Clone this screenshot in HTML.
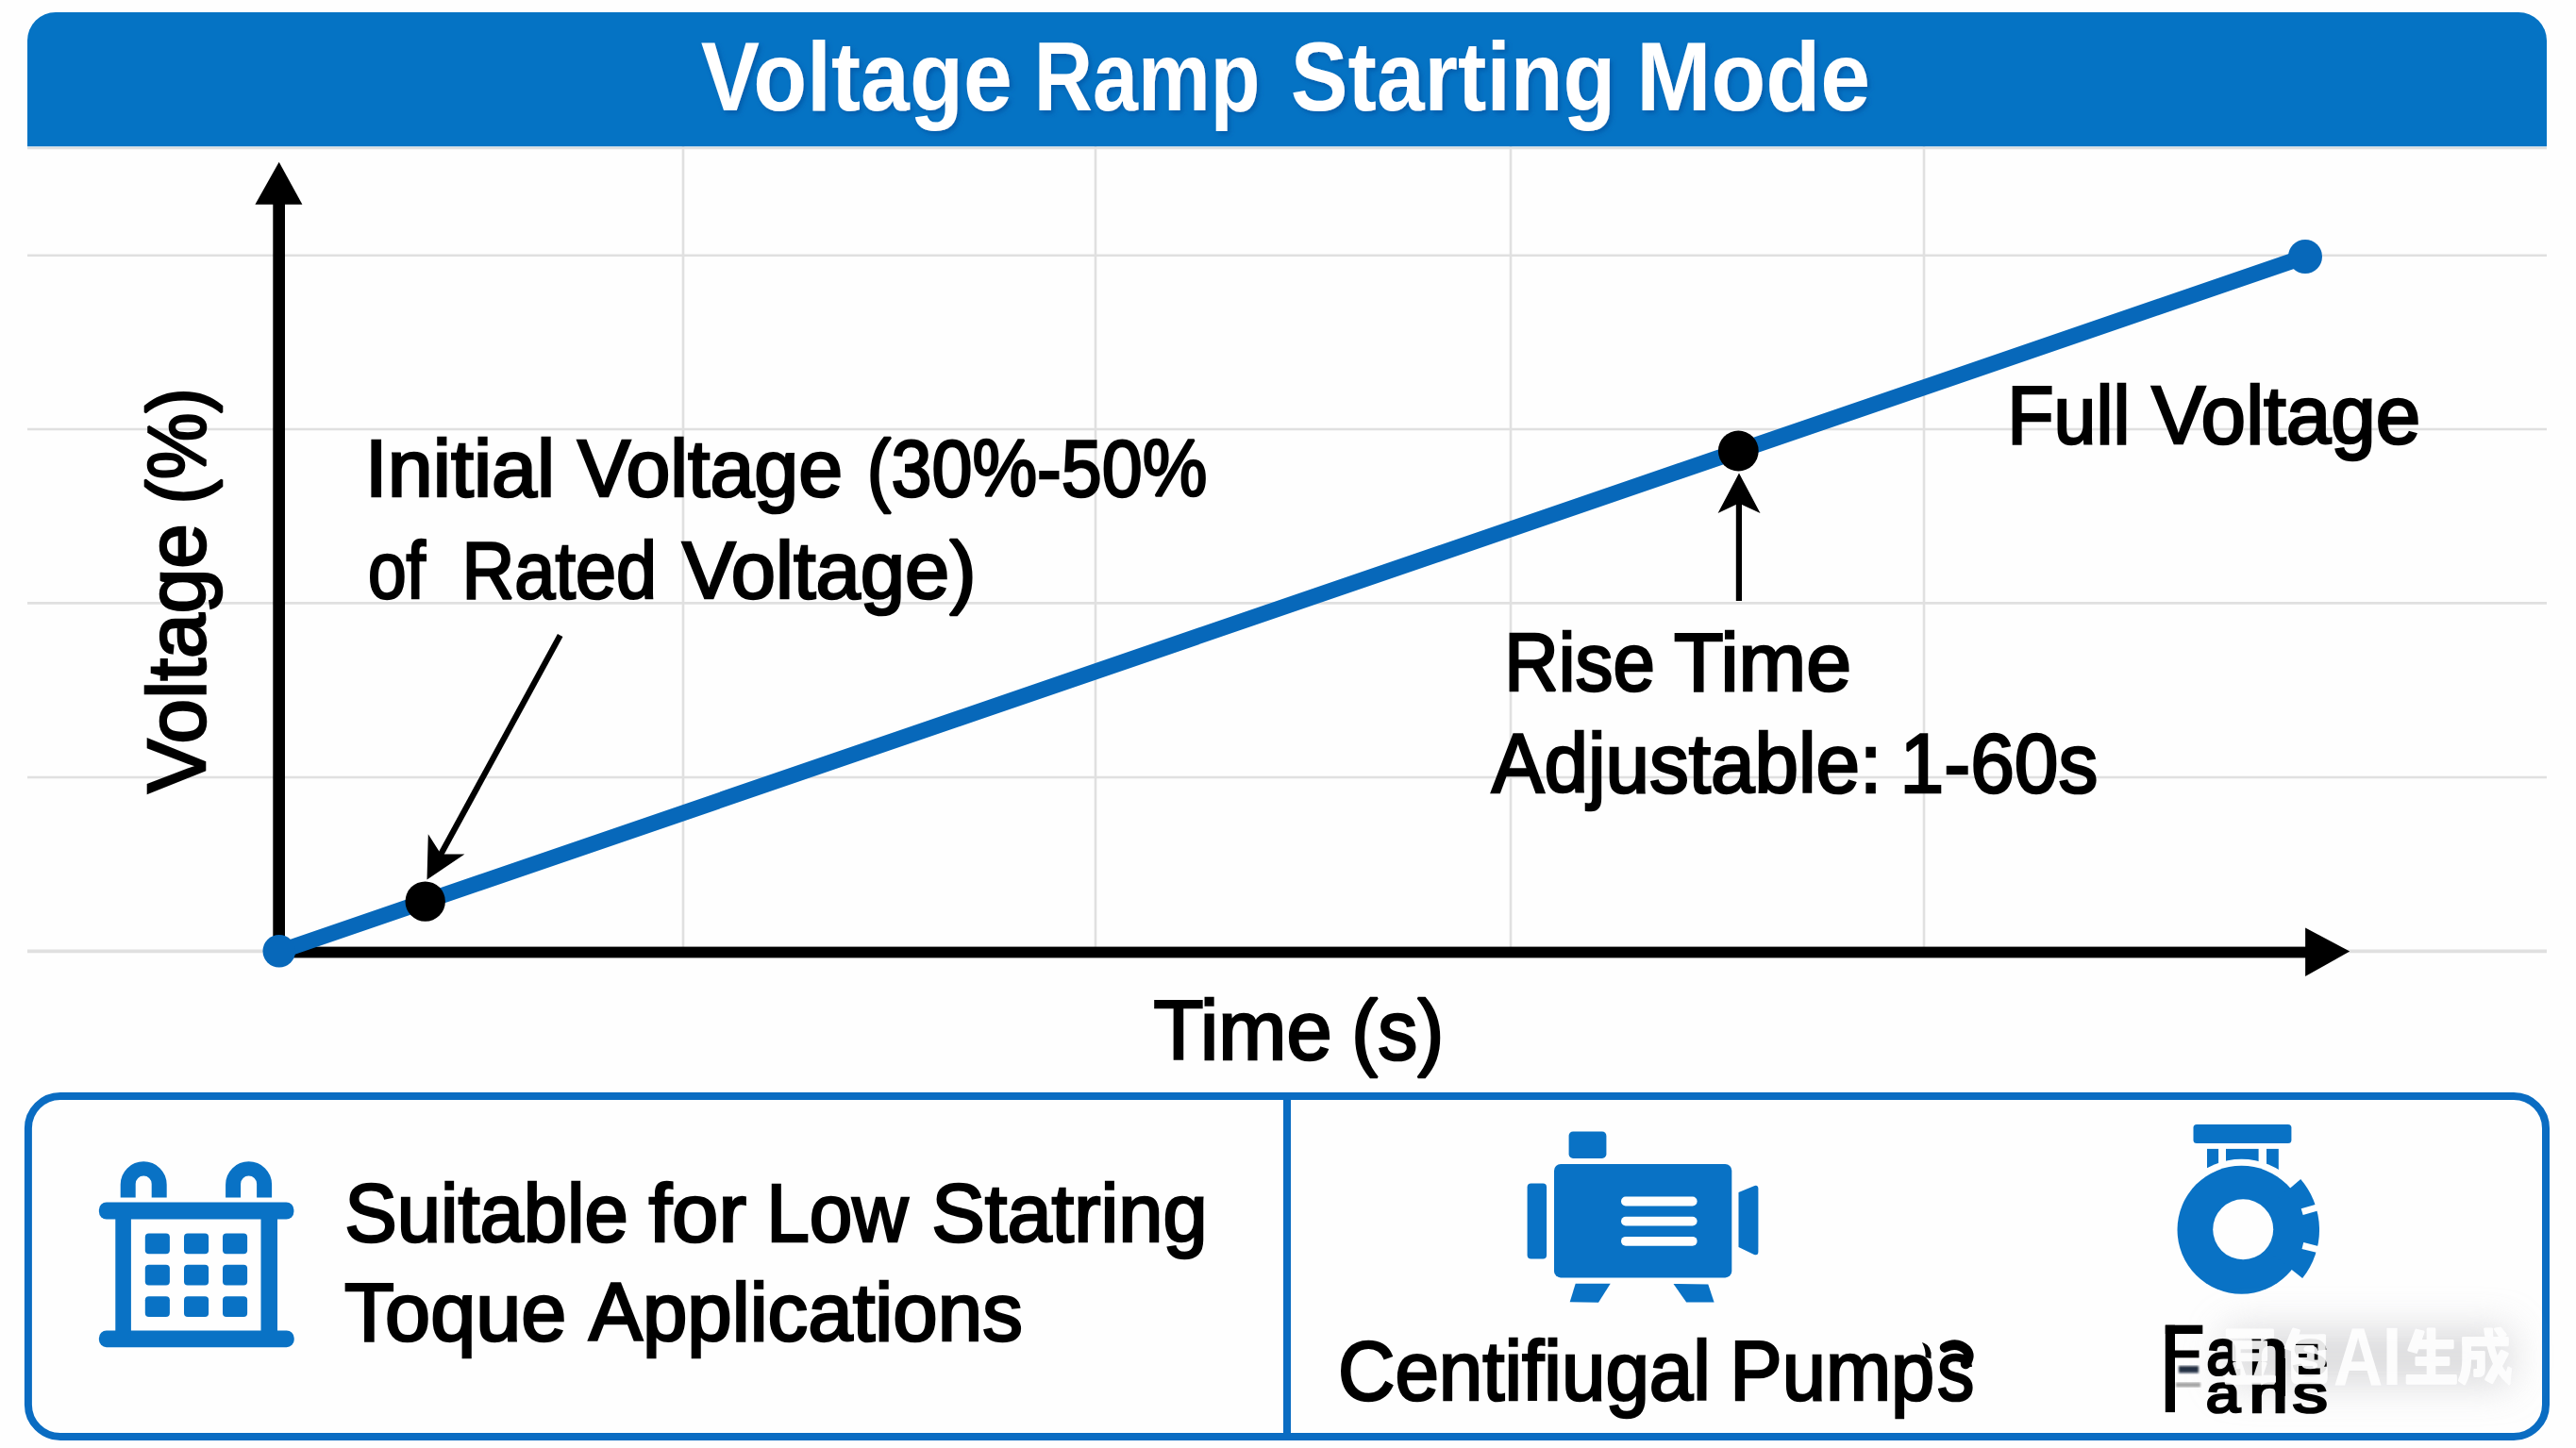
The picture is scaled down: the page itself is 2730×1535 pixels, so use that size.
<!DOCTYPE html>
<html lang="en"><head><meta charset="utf-8"><title>Voltage Ramp Starting Mode</title>
<style>html,body{margin:0;padding:0;background:#fefefe;}body{width:2730px;height:1535px;}svg{display:block;}text{font-family:"Liberation Sans",sans-serif;white-space:pre;}</style>
</head><body>
<svg width="2730" height="1535" viewBox="0 0 2730 1535">
<defs><filter id="soft" x="-40%" y="-180%" width="180%" height="460%"><feGaussianBlur stdDeviation="20"/></filter><filter id="b1"><feGaussianBlur stdDeviation="1.2"/></filter><filter id="ts" x="-5%" y="-20%" width="110%" height="150%"><feDropShadow dx="2.5" dy="3" stdDeviation="2.5" flood-color="#034a94" flood-opacity="0.55"/></filter></defs>
<rect x="0" y="0" width="2730" height="1535" fill="#fefefe"/>
<g stroke="#e0e0e0" stroke-width="2.6" fill="none">
<line x1="29" y1="157" x2="2699" y2="157"/>
<line x1="29" y1="270.7" x2="2699" y2="270.7"/>
<line x1="29" y1="455" x2="2699" y2="455"/>
<line x1="29" y1="639.4" x2="2699" y2="639.4"/>
<line x1="29" y1="824" x2="2699" y2="824"/>
<line x1="724" y1="155" x2="724" y2="1008"/>
<line x1="1161" y1="155" x2="1161" y2="1008"/>
<line x1="1601" y1="155" x2="1601" y2="1008"/>
<line x1="2039" y1="155" x2="2039" y2="1008"/>
</g>
<line x1="29" y1="1008.4" x2="2699" y2="1008.4" stroke="#e0e0e0" stroke-width="3.6"/>
<path d="M29 155.3 V43 A30 30 0 0 1 59 13 H2669 A30 30 0 0 1 2699 43 V155.3 Z" fill="#0573c4"/>
<text x="742.85" y="117.30" font-size="104" textLength="329.98" lengthAdjust="spacingAndGlyphs" fill="#fff" font-weight="700" filter="url(#ts)">Voltage</text>
<text x="1095.82" y="117.30" font-size="104" textLength="239.54" lengthAdjust="spacingAndGlyphs" fill="#fff" font-weight="700" filter="url(#ts)">Ramp</text>
<text x="1367.76" y="117.30" font-size="104" textLength="344.34" lengthAdjust="spacingAndGlyphs" fill="#fff" font-weight="700" filter="url(#ts)">Starting</text>
<text x="1734.13" y="117.30" font-size="104" textLength="248.08" lengthAdjust="spacingAndGlyphs" fill="#fff" font-weight="700" filter="url(#ts)">Mode</text>
<rect x="289.3" y="210" width="12.7" height="805.5" fill="#000"/>
<polygon points="295.7,171.8 320.4,216.7 270.4,216.7" fill="#000"/>
<rect x="289.3" y="1003.6" width="2160" height="11.8" fill="#000"/>
<polygon points="2490.2,1008.6 2443.1,983.6 2443.1,1035" fill="#000"/>
<line x1="296" y1="1008.6" x2="2443" y2="272" stroke="#0768ba" stroke-width="16.8" stroke-linecap="round"/>
<circle cx="295.8" cy="1008.2" r="17.3" fill="#0768ba"/>
<circle cx="2443" cy="272" r="18" fill="#0768ba"/>
<circle cx="450.7" cy="955.6" r="21.2" fill="#000"/>
<circle cx="1842.3" cy="478" r="21.4" fill="#000"/>
<line x1="593.7" y1="673.5" x2="464.5" y2="910.6" stroke="#000" stroke-width="6.3"/>
<polygon points="452.5,932.6 453.8,884.3 467.3,905.4 492.4,905.4" fill="#000"/>
<rect x="1839.8" y="525" width="6.2" height="112" fill="#000"/>
<polygon points="1843,501.6 1865.5,544.1 1842.8,533.6 1820.6,544.1" fill="#000"/>
<text x="386.86" y="526.00" font-size="85.8" textLength="201.36" lengthAdjust="spacingAndGlyphs" fill="#000" stroke="#000" stroke-width="2.6" stroke-linejoin="miter" stroke-miterlimit="2">Initial</text>
<text x="611.88" y="526.00" font-size="85.8" textLength="281.17" lengthAdjust="spacingAndGlyphs" fill="#000" stroke="#000" stroke-width="2.6" stroke-linejoin="miter" stroke-miterlimit="2">Voltage</text>
<text x="918.81" y="526.00" font-size="85.8" textLength="360.59" lengthAdjust="spacingAndGlyphs" fill="#000" stroke="#000" stroke-width="2.6" stroke-linejoin="miter" stroke-miterlimit="2">(30%-50%</text>
<text x="389.93" y="634.40" font-size="85.8" textLength="61.00" lengthAdjust="spacingAndGlyphs" fill="#000" stroke="#000" stroke-width="2.6" stroke-linejoin="miter" stroke-miterlimit="2">of</text>
<text x="489.45" y="634.40" font-size="85.8" textLength="206.64" lengthAdjust="spacingAndGlyphs" fill="#000" stroke="#000" stroke-width="2.6" stroke-linejoin="miter" stroke-miterlimit="2">Rated</text>
<text x="722.88" y="634.40" font-size="85.8" textLength="311.73" lengthAdjust="spacingAndGlyphs" fill="#000" stroke="#000" stroke-width="2.6" stroke-linejoin="miter" stroke-miterlimit="2">Voltage)</text>
<text x="2127.28" y="470.20" font-size="86.8" textLength="130.16" lengthAdjust="spacingAndGlyphs" fill="#000" stroke="#000" stroke-width="2.6" stroke-linejoin="miter" stroke-miterlimit="2">Full</text>
<text x="2280.37" y="470.20" font-size="86.8" textLength="285.02" lengthAdjust="spacingAndGlyphs" fill="#000" stroke="#000" stroke-width="2.6" stroke-linejoin="miter" stroke-miterlimit="2">Voltage</text>
<text x="1594.15" y="731.80" font-size="86.3" textLength="159.70" lengthAdjust="spacingAndGlyphs" fill="#000" stroke="#000" stroke-width="2.6" stroke-linejoin="miter" stroke-miterlimit="2">Rise</text>
<text x="1774.11" y="731.80" font-size="86.3" textLength="187.88" lengthAdjust="spacingAndGlyphs" fill="#000" stroke="#000" stroke-width="2.6" stroke-linejoin="miter" stroke-miterlimit="2">Time</text>
<text x="1580.73" y="839.90" font-size="88.2" textLength="413.56" lengthAdjust="spacingAndGlyphs" fill="#000" stroke="#000" stroke-width="2.6" stroke-linejoin="miter" stroke-miterlimit="2">Adjustable:</text>
<text x="2013.62" y="839.90" font-size="88.2" textLength="209.84" lengthAdjust="spacingAndGlyphs" fill="#000" stroke="#000" stroke-width="2.6" stroke-linejoin="miter" stroke-miterlimit="2">1-60s</text>
<text x="1222.39" y="1123.20" font-size="88.7" textLength="189.33" lengthAdjust="spacingAndGlyphs" fill="#000" stroke="#000" stroke-width="2.6" stroke-linejoin="miter" stroke-miterlimit="2">Time</text>
<text x="1432.29" y="1123.20" font-size="88.7" textLength="97.92" lengthAdjust="spacingAndGlyphs" fill="#000" stroke="#000" stroke-width="2.6" stroke-linejoin="miter" stroke-miterlimit="2">(s)</text>
<text transform="translate(217.30,841.70) rotate(-90)" x="0.87" y="0" font-size="87.2" textLength="285.84" lengthAdjust="spacingAndGlyphs" fill="#000" stroke="#000" stroke-width="2.6" stroke-linejoin="miter" stroke-miterlimit="2">Voltage</text>
<text transform="translate(217.30,531.00) rotate(-90)" x="-3.62" y="0" font-size="87.2" textLength="123.35" lengthAdjust="spacingAndGlyphs" fill="#000" stroke="#000" stroke-width="2.6" stroke-linejoin="miter" stroke-miterlimit="2">(%)</text>
<rect x="29.9" y="1162" width="2668.1" height="361" rx="34" ry="34" fill="#fefefe" stroke="#0a6cc2" stroke-width="8"/>
<rect x="1360" y="1162" width="8" height="361" fill="#0a6cc2"/>
<g fill="#0972c5">
<rect x="104.9" y="1274.5" width="206.5" height="18" rx="8"/>
<rect x="104.9" y="1410.4" width="206.8" height="17.8" rx="8"/>
<rect x="122.3" y="1284" width="16.6" height="135"/>
<rect x="276.5" y="1284" width="17.5" height="135"/>
<path d="M127.69999999999999 1269.5 V1255.7 A24.5 24.5 0 0 1 176.7 1255.7 V1269.5 H160.7 V1255 A8.5 8.5 0 0 0 143.7 1255 V1269.5 Z"/>
<path d="M239.10000000000002 1269.5 V1255.7 A24.5 24.5 0 0 1 288.1 1255.7 V1269.5 H272.1 V1255 A8.5 8.5 0 0 0 255.10000000000002 1255 V1269.5 Z"/>
<rect x="153.8" y="1307.6" width="26.1" height="21.7" rx="4"/>
<rect x="153.8" y="1340.8" width="26.1" height="21.7" rx="4"/>
<rect x="153.8" y="1374.3" width="26.1" height="21.7" rx="4"/>
<rect x="195" y="1307.6" width="26.1" height="21.7" rx="4"/>
<rect x="195" y="1340.8" width="26.1" height="21.7" rx="4"/>
<rect x="195" y="1374.3" width="26.1" height="21.7" rx="4"/>
<rect x="236" y="1307.6" width="26.1" height="21.7" rx="4"/>
<rect x="236" y="1340.8" width="26.1" height="21.7" rx="4"/>
<rect x="236" y="1374.3" width="26.1" height="21.7" rx="4"/>
</g>
<g fill="#0972c5">
<rect x="1662.6" y="1199.4" width="39.8" height="28.5" rx="4.5"/>
<rect x="1647" y="1233.9" width="188.3" height="120.5" rx="7"/>
<rect x="1618.6" y="1254.4" width="20.5" height="80.2" rx="4"/>
<path d="M1842.5 1264 L1859.5 1257 Q1863.4 1256 1863.4 1260.5 V1326.5 Q1863.4 1331.5 1859 1330 L1842.5 1322 Z"/>
<polygon points="1669.7,1360.8 1706.7,1360.8 1694,1380.8 1663.7,1380.2"/>
<polygon points="1773.5,1361 1810.3,1361.5 1816.6,1380.5 1787.2,1380.5"/>
</g>
<rect x="1718" y="1268.6" width="80.6" height="9.8" rx="4.9" fill="#fefefe"/>
<rect x="1718" y="1289.7" width="80.6" height="9.8" rx="4.9" fill="#fefefe"/>
<rect x="1718" y="1310.9" width="80.6" height="9.8" rx="4.9" fill="#fefefe"/>
<g fill="#0972c5">
<rect x="2324.5" y="1192" width="103.9" height="20.1" rx="3.5"/>
<rect x="2339" y="1217.9" width="12.1" height="40"/>
<rect x="2359" y="1217.9" width="34.6" height="40"/>
<rect x="2402" y="1217.9" width="12.8" height="40"/>
</g>
<circle cx="2375.5" cy="1303.7" r="75" fill="#fefefe"/>
<circle cx="2375.5" cy="1303.7" r="68" fill="#0972c5"/>
<path d="M2375.5 1303.7 L2438.2 1250.1 A82.5 82.5 0 0 1 2440.1 1355.1 Z" fill="#0972c5"/>
<line x1="2439.7" y1="1284.7" x2="2458.0" y2="1279.3" stroke="#fefefe" stroke-width="7"/>
<line x1="2440.4" y1="1320.5" x2="2458.8" y2="1325.2" stroke="#fefefe" stroke-width="7"/>
<circle cx="2377.2" cy="1303.3" r="32" fill="#fefefe"/>
<text x="365.17" y="1316.10" font-size="86.8" textLength="300.67" lengthAdjust="spacingAndGlyphs" fill="#000" stroke="#000" stroke-width="2.6" stroke-linejoin="miter" stroke-miterlimit="2">Suitable</text>
<text x="687.46" y="1316.10" font-size="86.8" textLength="103.45" lengthAdjust="spacingAndGlyphs" fill="#000" stroke="#000" stroke-width="2.6" stroke-linejoin="miter" stroke-miterlimit="2">for</text>
<text x="812.18" y="1316.10" font-size="86.8" textLength="150.40" lengthAdjust="spacingAndGlyphs" fill="#000" stroke="#000" stroke-width="2.6" stroke-linejoin="miter" stroke-miterlimit="2">Low</text>
<text x="987.19" y="1316.10" font-size="86.8" textLength="292.56" lengthAdjust="spacingAndGlyphs" fill="#000" stroke="#000" stroke-width="2.6" stroke-linejoin="miter" stroke-miterlimit="2">Statring</text>
<text x="364.90" y="1421.20" font-size="86.3" textLength="235.46" lengthAdjust="spacingAndGlyphs" fill="#000" stroke="#000" stroke-width="2.6" stroke-linejoin="miter" stroke-miterlimit="2">Toque</text>
<text x="624.03" y="1421.20" font-size="86.3" textLength="459.75" lengthAdjust="spacingAndGlyphs" fill="#000" stroke="#000" stroke-width="2.6" stroke-linejoin="miter" stroke-miterlimit="2">Applications</text>
<text x="1418.04" y="1484.40" font-size="88.7" textLength="394.87" lengthAdjust="spacingAndGlyphs" fill="#000" stroke="#000" stroke-width="2.6" stroke-linejoin="miter" stroke-miterlimit="2">Centifiugal</text>
<text x="1833.29" y="1484.40" font-size="88.7" textLength="217.03" lengthAdjust="spacingAndGlyphs" fill="#000" stroke="#000" stroke-width="2.6" stroke-linejoin="miter" stroke-miterlimit="2">Pump</text>
<text x="2052.90" y="1484.40" font-size="88.7" textLength="39.33" lengthAdjust="spacingAndGlyphs" fill="#000" stroke="#000" stroke-width="2.6" stroke-linejoin="miter" stroke-miterlimit="2">s</text>
<path d="M2061 1428.5 Q2074 1421.5 2084 1431 Q2089 1437 2083 1446" fill="none" stroke="#000" stroke-width="10.5" stroke-linecap="round"/>
<path d="M2039 1425 Q2046.5 1428 2045.5 1439 L2041.5 1438 Q2042 1431 2039 1425 Z" fill="#000" stroke="#000" stroke-width="2"/>
<rect x="2358" y="1408" width="304" height="60" rx="8" fill="#cfcfd1" opacity="0.72" filter="url(#soft)"/>
<g fill="#000"><rect x="2294.8" y="1404.7" width="10.2" height="92.4"/><rect x="2294.8" y="1404.7" width="39.5" height="9.3"/><rect x="2300" y="1431.5" width="30.5" height="7.8"/><rect x="2309" y="1448" width="21" height="7.4" fill="#0a1a30" opacity="0.9" filter="url(#b1)"/><rect x="2306" y="1465.5" width="26" height="5" opacity="0.35" filter="url(#b1)"/></g>
<g transform="translate(0,1457) scale(1,0.76)"><text x="2338.50" y="0.00" font-size="90" textLength="34.41" lengthAdjust="spacingAndGlyphs" fill="#000" stroke="#000" stroke-width="4.2" stroke-linejoin="miter" stroke-miterlimit="2">a</text></g>
<g transform="translate(0,1457) scale(1,0.76)"><text x="2383.62" y="0.00" font-size="90" textLength="41.09" lengthAdjust="spacingAndGlyphs" fill="#000" stroke="#000" stroke-width="4.2" stroke-linejoin="miter" stroke-miterlimit="2">n</text></g>
<g transform="translate(0,1457) scale(1,0.76)"><text x="2429.83" y="0.00" font-size="90" textLength="37.04" lengthAdjust="spacingAndGlyphs" fill="#000" stroke="#000" stroke-width="4.2" stroke-linejoin="miter" stroke-miterlimit="2">s</text></g>
<g transform="translate(0,1497.3) scale(1,0.64)"><text x="2337.85" y="0.00" font-size="90" textLength="36.36" lengthAdjust="spacingAndGlyphs" fill="#000" stroke="#000" stroke-width="4.2" stroke-linejoin="miter" stroke-miterlimit="2">a</text></g>
<g transform="translate(0,1497.3) scale(1,0.64)"><text x="2383.62" y="0.00" font-size="90" textLength="41.09" lengthAdjust="spacingAndGlyphs" fill="#000" stroke="#000" stroke-width="4.2" stroke-linejoin="miter" stroke-miterlimit="2">n</text></g>
<g transform="translate(0,1497.3) scale(1,0.64)"><text x="2429.83" y="0.00" font-size="90" textLength="37.04" lengthAdjust="spacingAndGlyphs" fill="#000" stroke="#000" stroke-width="4.2" stroke-linejoin="miter" stroke-miterlimit="2">s</text></g>
<rect x="2412" y="1440" width="10" height="40" fill="#000"/>
<g fill="#fff" stroke="#fff" stroke-width="5" stroke-linejoin="round" opacity="0.9">
<g transform="translate(2358,1408.3) scale(0.5270,0.5980)"><rect x="4" y="3" width="92" height="12"/><path fill-rule="evenodd" d="M17 24 H83 V56 H17 Z M29 34 V46 H71 V34 Z"/><polygon points="18,62 31,60 40,84 27,86"/><polygon points="69,60 82,62 73,86 60,84"/><rect x="2" y="85" width="96" height="12"/></g>
<g transform="translate(2420,1408.3) scale(0.4640,0.5980)"><polygon points="22,1 36,4 20,38 4,34"/><rect x="24" y="13" width="70" height="12"/><path d="M81 13 H94 V58 Q94 68 82 68 H70 V58 H81 Z"/><path fill-rule="evenodd" d="M20 32 H68 V64 H20 Z M32 42 V54 H56 V42 Z"/><path d="M20 32 H32 V84 H86 V70 H98 V88 Q98 96 88 96 H30 Q20 96 20 86 Z"/></g>
<g transform="translate(2550,1408.3) scale(0.5360,0.5980)"><polygon points="20,3 34,6 20,42 5,38"/><rect x="18" y="22" width="74" height="12"/><rect x="43" y="1" width="13" height="90"/><rect x="20" y="52" width="64" height="12"/><rect x="2" y="84" width="96" height="13"/></g>
<g transform="translate(2606.3,1408.3) scale(0.5440,0.5980)"><rect x="8" y="17" width="86" height="12"/><path d="M8 17 H21 V55 Q21 80 10 98 L0 92 Q8 76 8 55 Z"/><path d="M20 42 H48 V74 Q48 84 38 84 H30 V74 H37 V53 H20 Z"/><path d="M50 1 H63 Q64 50 92 82 L96 70 L100 72 L97 98 Q60 70 50 1 Z"/><polygon points="82,40 94,45 64,96 52,90"/><polygon points="70,1 80,0 90,11 80,15"/></g>
</g>
<text x="2472.68" y="1468.10" font-size="87" textLength="52.63" lengthAdjust="spacingAndGlyphs" fill="#fff" font-weight="700" opacity="0.92">A</text>
<text x="2524.43" y="1468.10" font-size="87" textLength="21.03" lengthAdjust="spacingAndGlyphs" fill="#fff" font-weight="700" opacity="0.92">I</text>
</svg>
</body></html>
